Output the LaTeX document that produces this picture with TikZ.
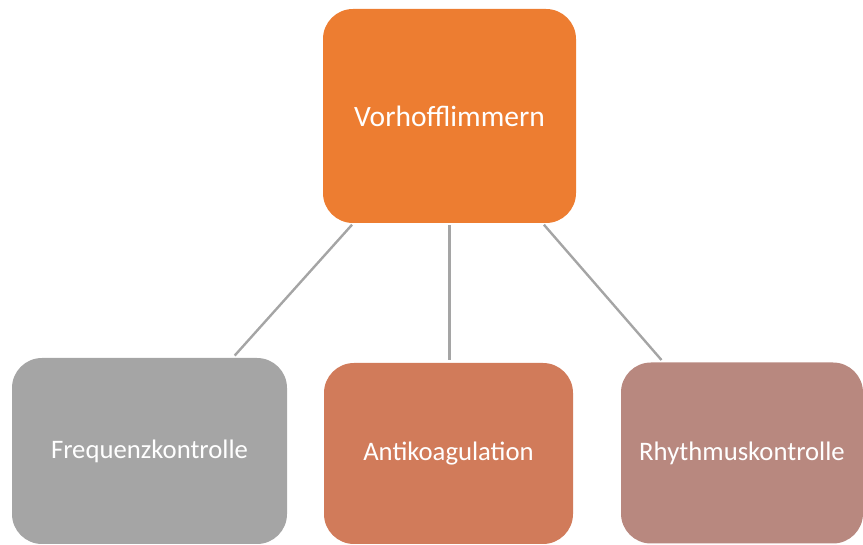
\documentclass[tikz,border=0pt]{standalone}
\usepackage{fontspec}
\setmainfont{Carlito}
\definecolor{cOrange}{HTML}{ED7D31}
\definecolor{cGray}{HTML}{A5A5A5}
\definecolor{cTerra}{HTML}{D17B5A}
\definecolor{cRose}{HTML}{B8887F}
\definecolor{cLine}{HTML}{A5A5A5}
\tikzset{
  box/.style={rectangle, rounded corners=30pt, text=white, inner sep=0pt, align=center},
  link/.style={draw=cLine, line width=2.4pt, shorten <=2pt, shorten >=3pt}
}
\begin{document}
\begin{tikzpicture}[x=1pt, y=1pt]
  \useasboundingbox (0,0) rectangle (863,545);
  % parent node
  \node[box, fill=cOrange, minimum width=253pt, minimum height=214pt, font=\fontsize{29.5}{35}\selectfont]
    (top) at (449.5,429) {Vorhofflimmern};
  % three branches
  \node[box, fill=cGray, minimum width=275pt, minimum height=186pt, font=\fontsize{26.7}{32}\selectfont]
    (left) at (149.5,94) {Frequenzkontrolle};
  \node[box, fill=cTerra, minimum width=249pt, minimum height=181pt, font=\fontsize{26.7}{32}\selectfont]
    (mid) at (448.5,91.5) {Antikoagulation};
  \node[box, fill=cRose, minimum width=242pt, minimum height=181pt, font=\fontsize{26.7}{32}\selectfont]
    (right) at (742,92) {Rhythmuskontrolle};
  % connectors
  \draw[link] (top) -- (left);
  \draw[link] (top.south) -- (top.south |- mid.north);
  \draw[link] (top) -- (right);
\end{tikzpicture}
\end{document}
